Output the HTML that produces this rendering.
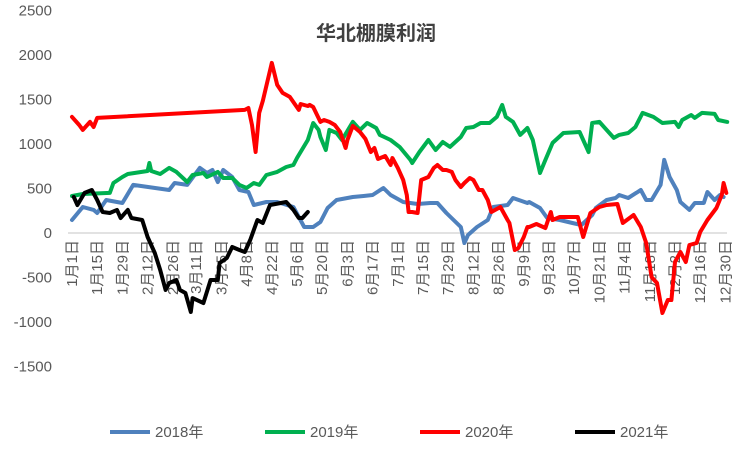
<!DOCTYPE html>
<html><head><meta charset="utf-8"><style>
body{margin:0;background:#fff}
svg{display:block;font-family:"Liberation Sans","Noto Sans CJK SC",sans-serif}
</style></head><body>
<svg id="chart" width="751" height="450" viewBox="0 0 751 450">
<text x="376" y="40" text-anchor="middle" font-size="20" font-weight="bold" fill="#404040" font-family="'Liberation Sans','Noto Sans CJK SC',sans-serif">华北棚膜利润</text>
<g id="yaxis"></g>
<g id="xaxis"></g>
<g id="series"></g>
<g id="legend"></g>
</svg>
<script>
const yTicks=[2500,2000,1500,1000,500,0,-500,-1000,-1500];
const xTickDays=[0,14,28,42,56,69,83,97,111,125,139,153,167,181,195,209,223,237,251,265,279,293,307,321,335,349,363];
const xTickLabels=["1月1日","1月15日","1月29日","2月12日","2月26日","3月11日","3月25日","4月8日","4月22日","5月6日","5月20日","6月3日","6月17日","7月1日","7月15日","7月29日","8月12日","8月26日","9月9日","9月23日","10月7日","10月21日","11月4日","11月18日","12月2日","12月16日","12月30日"];
const seriesNames=["2018年","2019年","2020年","2021年"];
const days2018=[0,6,12,14,19,28,34,54,57,64,71,75,78,81,84,89,93,98,101,108,114,123,129,134,138,142,147,156,162,167,173,177,184,192,199,203,208,216,218,220,225,231,234,242,245,253,254,260,264,271,278,283,289,291,297,302,304,309,316,319,322,327,329,332,336,338,343,346,351,353,357,360,362];
const vals2018=[146,292,259,225,371,337,540,483,562,540,731,674,708,573,708,629,483,461,315,348,348,292,67,67,124,281,371,405,416,427,506,427,348,326,337,337,225,67,-112,-22,67,146,292,315,393,337,348,281,169,146,112,90,202,281,371,393,427,393,483,371,371,540,821,629,483,348,259,337,337,461,371,427,405];
const days2019=[0,6,21,23,28,31,42,43,44,49,54,58,64,67,73,75,81,84,89,93,97,101,104,108,114,119,123,125,131,134,137,138,141,143,147,150,156,160,164,169,171,177,182,188,189,193,198,202,206,210,216,219,223,227,232,236,239,241,245,249,253,256,260,263,267,273,282,287,289,293,301,304,309,313,317,323,328,335,337,339,344,346,350,357,359,364];
const vals2019=[416,438,450,562,629,663,697,787,697,663,731,686,573,652,674,629,686,618,618,540,506,562,540,652,686,742,764,843,1045,1236,1158,1079,933,1158,1124,1045,1248,1158,1236,1180,1102,1045,967,821,787,910,1045,933,1023,967,1079,1180,1191,1236,1236,1304,1439,1304,1248,1102,1180,1045,674,821,1012,1124,1135,910,1236,1248,1068,1102,1124,1191,1349,1304,1236,1248,1191,1270,1326,1293,1349,1338,1270,1248];
const days2020=[0,4,6,10,12,14,96,98,100,102,104,106,111,114,117,121,126,127,131,132,134,138,140,143,146,149,152,153,156,160,163,166,168,170,174,177,178,181,184,186,187,189,192,194,198,201,203,206,208,211,213,216,218,221,223,226,228,231,233,238,242,243,246,248,251,253,254,258,263,266,267,271,281,284,288,293,297,303,306,312,316,319,322,325,328,331,333,335,338,341,343,347,349,353,358,361,362,363.5];
const vals2020=[1304,1214,1158,1248,1191,1293,1383,1405,1214,910,1349,1484,1911,1664,1574,1529,1383,1450,1427,1439,1416,1248,1270,1248,1214,1135,955,1045,1203,1135,1057,910,955,832,865,764,843,731,596,427,236,236,225,596,629,731,764,708,708,686,596,517,562,618,596,483,483,371,236,292,146,112,-191,-169,-45,67,67,101,56,236,146,180,180,-45,225,292,315,326,112,202,67,-112,-495,-562,-899,-753,-753,-326,-214,-326,-135,-112,11,146,281,427,562,450];
const days2021=[1,3,7,11,14,17,21,25,27,31,33,39,42,46,49,52,54,58,60,63,66,67,73,77,81,82,86,89,93,96,99,103,106,110,116,119,123,126,128,131];
const vals2021=[405,315,450,483,371,236,225,259,169,259,169,146,-45,-225,-416,-641,-562,-528,-641,-674,-888,-731,-787,-528,-528,-337,-281,-157,-191,-214,-79,146,112,315,337,348,259,169,169,236];
const colors=["#4f81bd","#00b050","#ff0000","#000000"];

const NS="http://www.w3.org/2000/svg";
function xS(d){return 72+1.8*d;}
function yS(v){return 233-0.089*v;}
function mk(tag,parent,attrs){const e=document.createElementNS(NS,tag);for(const k in attrs)e.setAttribute(k,attrs[k]);parent.appendChild(e);return e;}

const ya=document.getElementById('yaxis');
yTicks.forEach(t=>{
  const tx=mk('text',ya,{x:52,y:yS(t)+5,'text-anchor':'end','font-size':15,fill:'#595959'});
  
  
  tx.textContent=t;
});
const zl=mk('line',ya,{x1:68,x2:727,y1:yS(0),y2:yS(0),stroke:'#d9d9d9','stroke-width':1.5});



const xa=document.getElementById('xaxis');
xTickDays.forEach((d,i)=>{
  const x=xS(d)+5;
  const tx=mk('text',xa,{x:x,y:240,'text-anchor':'end','font-size':15,fill:'#595959',transform:`rotate(-90 ${x} 240)`});
  
  
  tx.textContent=xTickLabels[i];
});

const sg=document.getElementById('series');
const allDays=[days2018,days2019,days2020,days2021];
const allVals=[vals2018,vals2019,vals2020,vals2021];
allDays.forEach((ds,si)=>{
  const pts=ds.map((d,i)=>xS(d).toFixed(1)+','+yS(allVals[si][i]).toFixed(1)).join(' ');
  const pl=mk('polyline',sg,{points:pts,fill:'none',stroke:colors[si],'stroke-width':4,'stroke-linejoin':'round','stroke-linecap':'round'});
  
  
});

const lg=document.getElementById('legend');
const lx=[110,265,420,575];
seriesNames.forEach((n,i)=>{
  const g=mk('g',lg,{});
  
  
  mk('line',g,{x1:lx[i],x2:lx[i]+40,y1:432,y2:432,stroke:colors[i],'stroke-width':4});
  const t=mk('text',g,{x:lx[i]+45,y:437,'font-size':15,fill:'#595959'});
  t.textContent=n;
});
</script>
</body></html>
